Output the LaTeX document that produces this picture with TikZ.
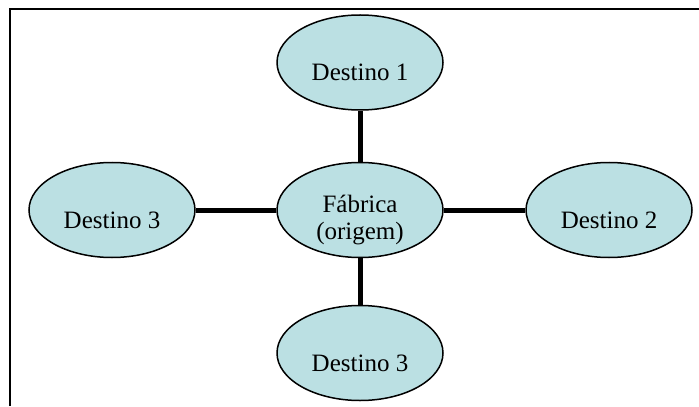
\documentclass[tikz,border=0pt]{standalone}
\usepackage{fontspec}
\setmainfont{Liberation Serif}
\usepackage{tikz}
\usetikzlibrary{shapes.geometric}
\definecolor{destfill}{RGB}{187, 224, 227}

\begin{document}
\begin{tikzpicture}[x=0.5pt, y=-0.5pt,
  place/.style={draw, ellipse, fill=destfill, line width=0.75pt,
    minimum width=83pt, minimum height=47.5pt, inner sep=1pt,
    font=\fontsize{12.5}{13.5}\selectfont, text height=18pt, text depth=0pt},
  route/.style={line width=2.5pt}]
  \useasboundingbox (0,0) rectangle (699,406);

  % Frame (only top and left edges show)
  \draw[line width=1.1pt] (10,406) -- (10,9) -- (699,9);

  % Origin
  \node[place, align=center, text height=29pt] (fab) at (360,210) {Fábrica\\(origem)};

  % Destinations
  \node[place] (d1) at (360,62.5) {Destino 1};
  \node[place] (d2) at (609,210) {Destino 2};
  \node[place] (d3w) at (112,210) {Destino 3};
  \node[place] (d3s) at (360,353) {Destino 3};

  % Routes
  \draw[route] (fab) -- (d1);
  \draw[route] (fab) -- (d2);
  \draw[route] (fab) -- (d3w);
  \draw[route] (fab) -- (d3s);
\end{tikzpicture}
\end{document}
